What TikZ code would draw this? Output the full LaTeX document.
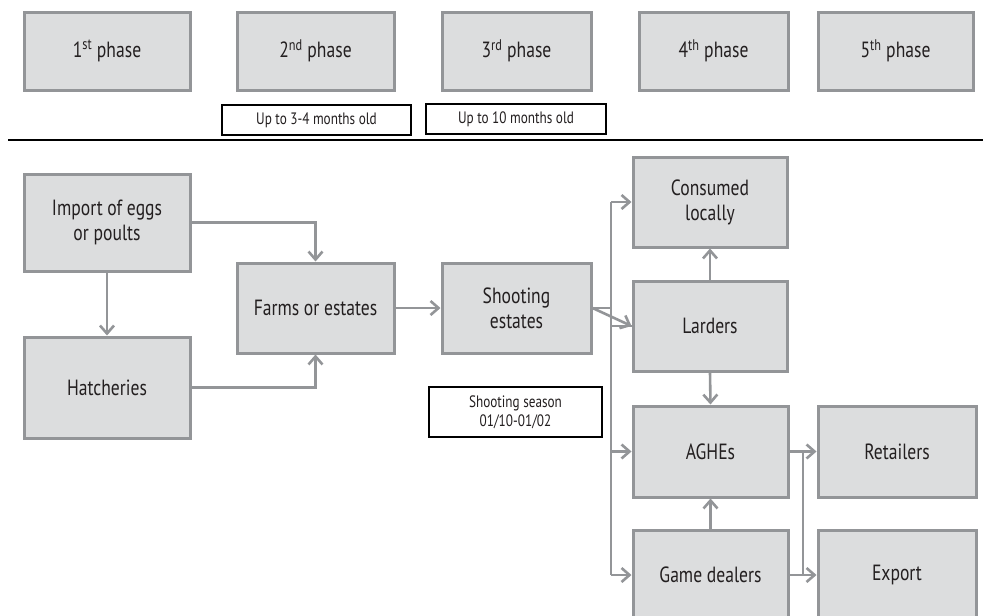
\documentclass[tikz,border=0pt]{standalone}
\usepackage{fontspec}
\setmainfont[FakeStretch=0.8]{PT Sans}
\usetikzlibrary{arrows.meta}
\definecolor{boxfill}{HTML}{DCDDDE}
\definecolor{boxedge}{HTML}{939598}
\definecolor{txt}{HTML}{231F20}
\tikzset{
  gbox/.style={draw=boxedge, fill=boxfill, line width=3pt, text=txt, align=center,
    font=\fontsize{22}{25}\selectfont, inner sep=0pt},
  lbox/.style={draw=black, fill=white, line width=1.2pt, text=txt, align=center,
    font=\fontsize{16.5}{19}\selectfont, inner sep=0pt},
  conn/.style={draw=boxedge, line width=2.6pt},
  arr/.style={conn, -{Straight Barb[length=8pt,width=14pt,line width=2.6pt]}},
}
\begin{document}
\begin{tikzpicture}[x=1pt,y=-1pt]
\useasboundingbox (0,0) rectangle (983,616);
\clip (0,0) rectangle (983,616);
% phases
\node[gbox, minimum width=166, minimum height=78] (p1) at (107,51) {1\textsuperscript{st} phase};
\node[gbox, minimum width=157, minimum height=78] (p2) at (315.5,51) {2\textsuperscript{nd} phase};
\node[gbox, minimum width=149, minimum height=78] (p3) at (516.5,51) {3\textsuperscript{rd} phase};
\node[gbox, minimum width=149, minimum height=78] (p4) at (713.5,51) {4\textsuperscript{th} phase};
\node[gbox, minimum width=155, minimum height=78] (p5) at (895.5,51) {5\textsuperscript{th} phase};
\node[lbox, minimum width=189, minimum height=30] (l1) at (316.5,120) {Up to 3-4 months old};
\node[lbox, minimum width=180, minimum height=30] (l2) at (516,119) {Up to 10 months old};
\coordinate (hl) at (8,140);
\coordinate (hr) at (990,140);
\draw[line width=1.2pt, black] (hl) -- (hr);
% flow
\node[gbox, minimum width=166, minimum height=97] (imp) at (107,222.5) {Import of eggs\\or poults};
\node[gbox, minimum width=166, minimum height=101] (hat) at (107,387.5) {Hatcheries};
\node[gbox, minimum width=157, minimum height=90] (farm) at (315.5,308) {Farms or estates};
\node[gbox, minimum width=149, minimum height=90] (shoot) at (516.5,308) {Shooting\\estates};
\node[gbox, minimum width=154, minimum height=90] (cons) at (710,202) {Consumed\\locally};
\node[gbox, minimum width=154, minimum height=90] (lard) at (710,326) {Larders};
\node[gbox, minimum width=155, minimum height=91] (ag) at (710.5,451.5) {AGHEs};
\node[gbox, minimum width=158, minimum height=91] (ret) at (897,451.5) {Retailers};
\node[gbox, minimum width=155, minimum height=90] (gd) at (710.5,575) {Game dealers};
\node[gbox, minimum width=158, minimum height=90] (exp) at (897,575) {Export};
\node[lbox, minimum width=173, minimum height=50] (season) at (515.5,412) {Shooting season\\01/10-01/02};
% connectors
\draw[arr] (imp.east) -| (farm.north);
\draw[arr] (imp.south) -- (hat.north);
\draw[arr] (hat.east) -| (farm.south);
\draw[arr] (farm.east) -- (shoot.west);
\coordinate (bt) at (611,202);
\coordinate (bb) at (611,575);
\draw[conn] (bt) -- (bb);
\draw[arr] (bt) -- (cons.west);
\draw[conn] (shoot.east) -- (shoot.east -| bt);
\draw[conn] (bt |- lard.west) -- (lard.west);
\draw[arr] (shoot.east) -- (lard.west);
\draw[arr] (bt |- ag.west) -- (ag.west);
\draw[arr] (bb) -- (gd.west);
\draw[arr] (lard.north) -- (cons.south);
\draw[arr] (lard.south) -- (ag.north);
\draw[arr] (gd.north) -- (ag.south);
\coordinate (rb) at (803,451.5);
\draw[arr] (ag.east) -- (ret.west);
\draw[arr] (gd.east) -- (exp.west);
\draw[conn] (ag.east -| rb) -- (gd.east -| rb);
\end{tikzpicture}
\end{document}
